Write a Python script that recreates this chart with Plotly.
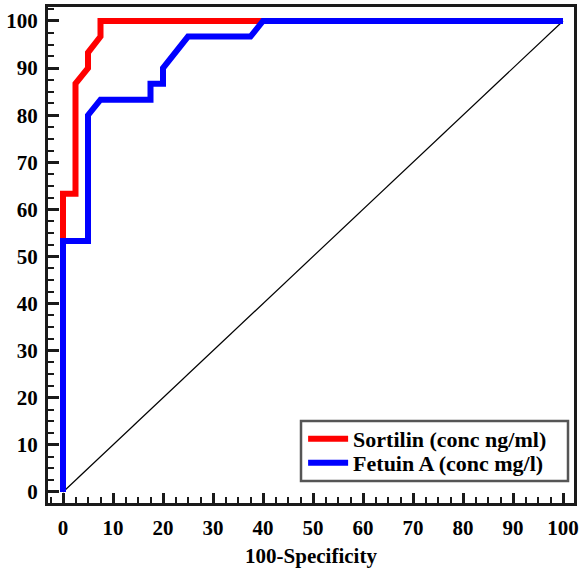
import plotly.graph_objects as go

# ROC curve data (100-Specificity vs Sensitivity)
sortilin_x = [0, 0, 2.5, 2.5, 5, 5, 7.5, 7.5, 40, 100]
sortilin_y = [0, 63.3, 63.3, 86.7, 90, 93.3, 96.7, 100, 100, 100]

fetuin_x = [0, 0, 5, 5, 7.5, 17.5, 17.5, 20, 20, 25, 37.5, 40, 100]
fetuin_y = [0, 53.3, 53.3, 80, 83.3, 83.3, 86.7, 86.7, 90, 96.7, 96.7, 100, 100]

ref_x = [0, 100]
ref_y = [0, 100]

tick_vals = [0, 10, 20, 30, 40, 50, 60, 70, 80, 90, 100]
tick_text = [str(v) for v in tick_vals]

FONT = "Liberation Serif, Times New Roman, serif"
AX = "#1a1a1a"

fig = go.Figure()
fig.add_trace(go.Scatter(x=ref_x, y=ref_y, mode="lines",
                         line=dict(color="black", width=1.2),
                         showlegend=False, hoverinfo="skip"))
fig.add_trace(go.Scatter(x=sortilin_x, y=sortilin_y, mode="lines",
                         name="Sortilin (conc ng/ml)", legend="legend",
                         line=dict(color="#FF0000", width=6)))
fig.add_trace(go.Scatter(x=fetuin_x, y=fetuin_y, mode="lines",
                         name="Fetuin A (conc mg/l)", legend="legend2",
                         line=dict(color="#0000FF", width=6)))

axis_common = dict(
    showgrid=False, zeroline=False, automargin=False,
    showline=True, linecolor=AX, linewidth=3, mirror=True,
    ticks="inside", tickcolor=AX, tickwidth=3,
    tickmode="array", tickvals=tick_vals, ticktext=tick_text,
    tickfont=dict(family=FONT, size=21, color="black", weight="bold"),
    minor=dict(dtick=2.5, tick0=0, ticks="inside", ticklen=6, tickwidth=2,
               tickcolor=AX, showgrid=False),
)

fig.update_xaxes(**axis_common, range=[-3.0, 102.2], ticklen=10,
                 ticklabelstandoff=4,
                 title=dict(text="100-Specificity", standoff=10,
                            font=dict(family=FONT, size=21, color="black",
                                      weight="bold")))
fig.update_yaxes(**axis_common, range=[-2.34, 102.97], ticklen=11,
                 ticklabelstandoff=3)

legend_font = dict(family=FONT, size=22, color="black", weight="bold")
legend_common = dict(xanchor="left", yanchor="middle", bgcolor="rgba(0,0,0,0)",
                     borderwidth=0, itemwidth=40, font=legend_font)

fig.update_layout(
    width=579, height=568,
    margin=dict(l=48, r=5, t=7, b=65),
    plot_bgcolor="white", paper_bgcolor="white",
    legend=dict(x=0.485, y=0.129, **legend_common),
    legend2=dict(x=0.485, y=0.0806, **legend_common),
    shapes=[dict(type="rect", xref="paper", yref="paper",
                 x0=0.481, x1=0.9886, y0=0.0444, y1=0.1653,
                 line=dict(color="#555555", width=2.5),
                 fillcolor="white", layer="above")],
)

fig.write_html("out.html", config={"displayModeBar": False},
               post_script="document.body.style.margin='0';"
                           "document.body.style.overflow='hidden';")
